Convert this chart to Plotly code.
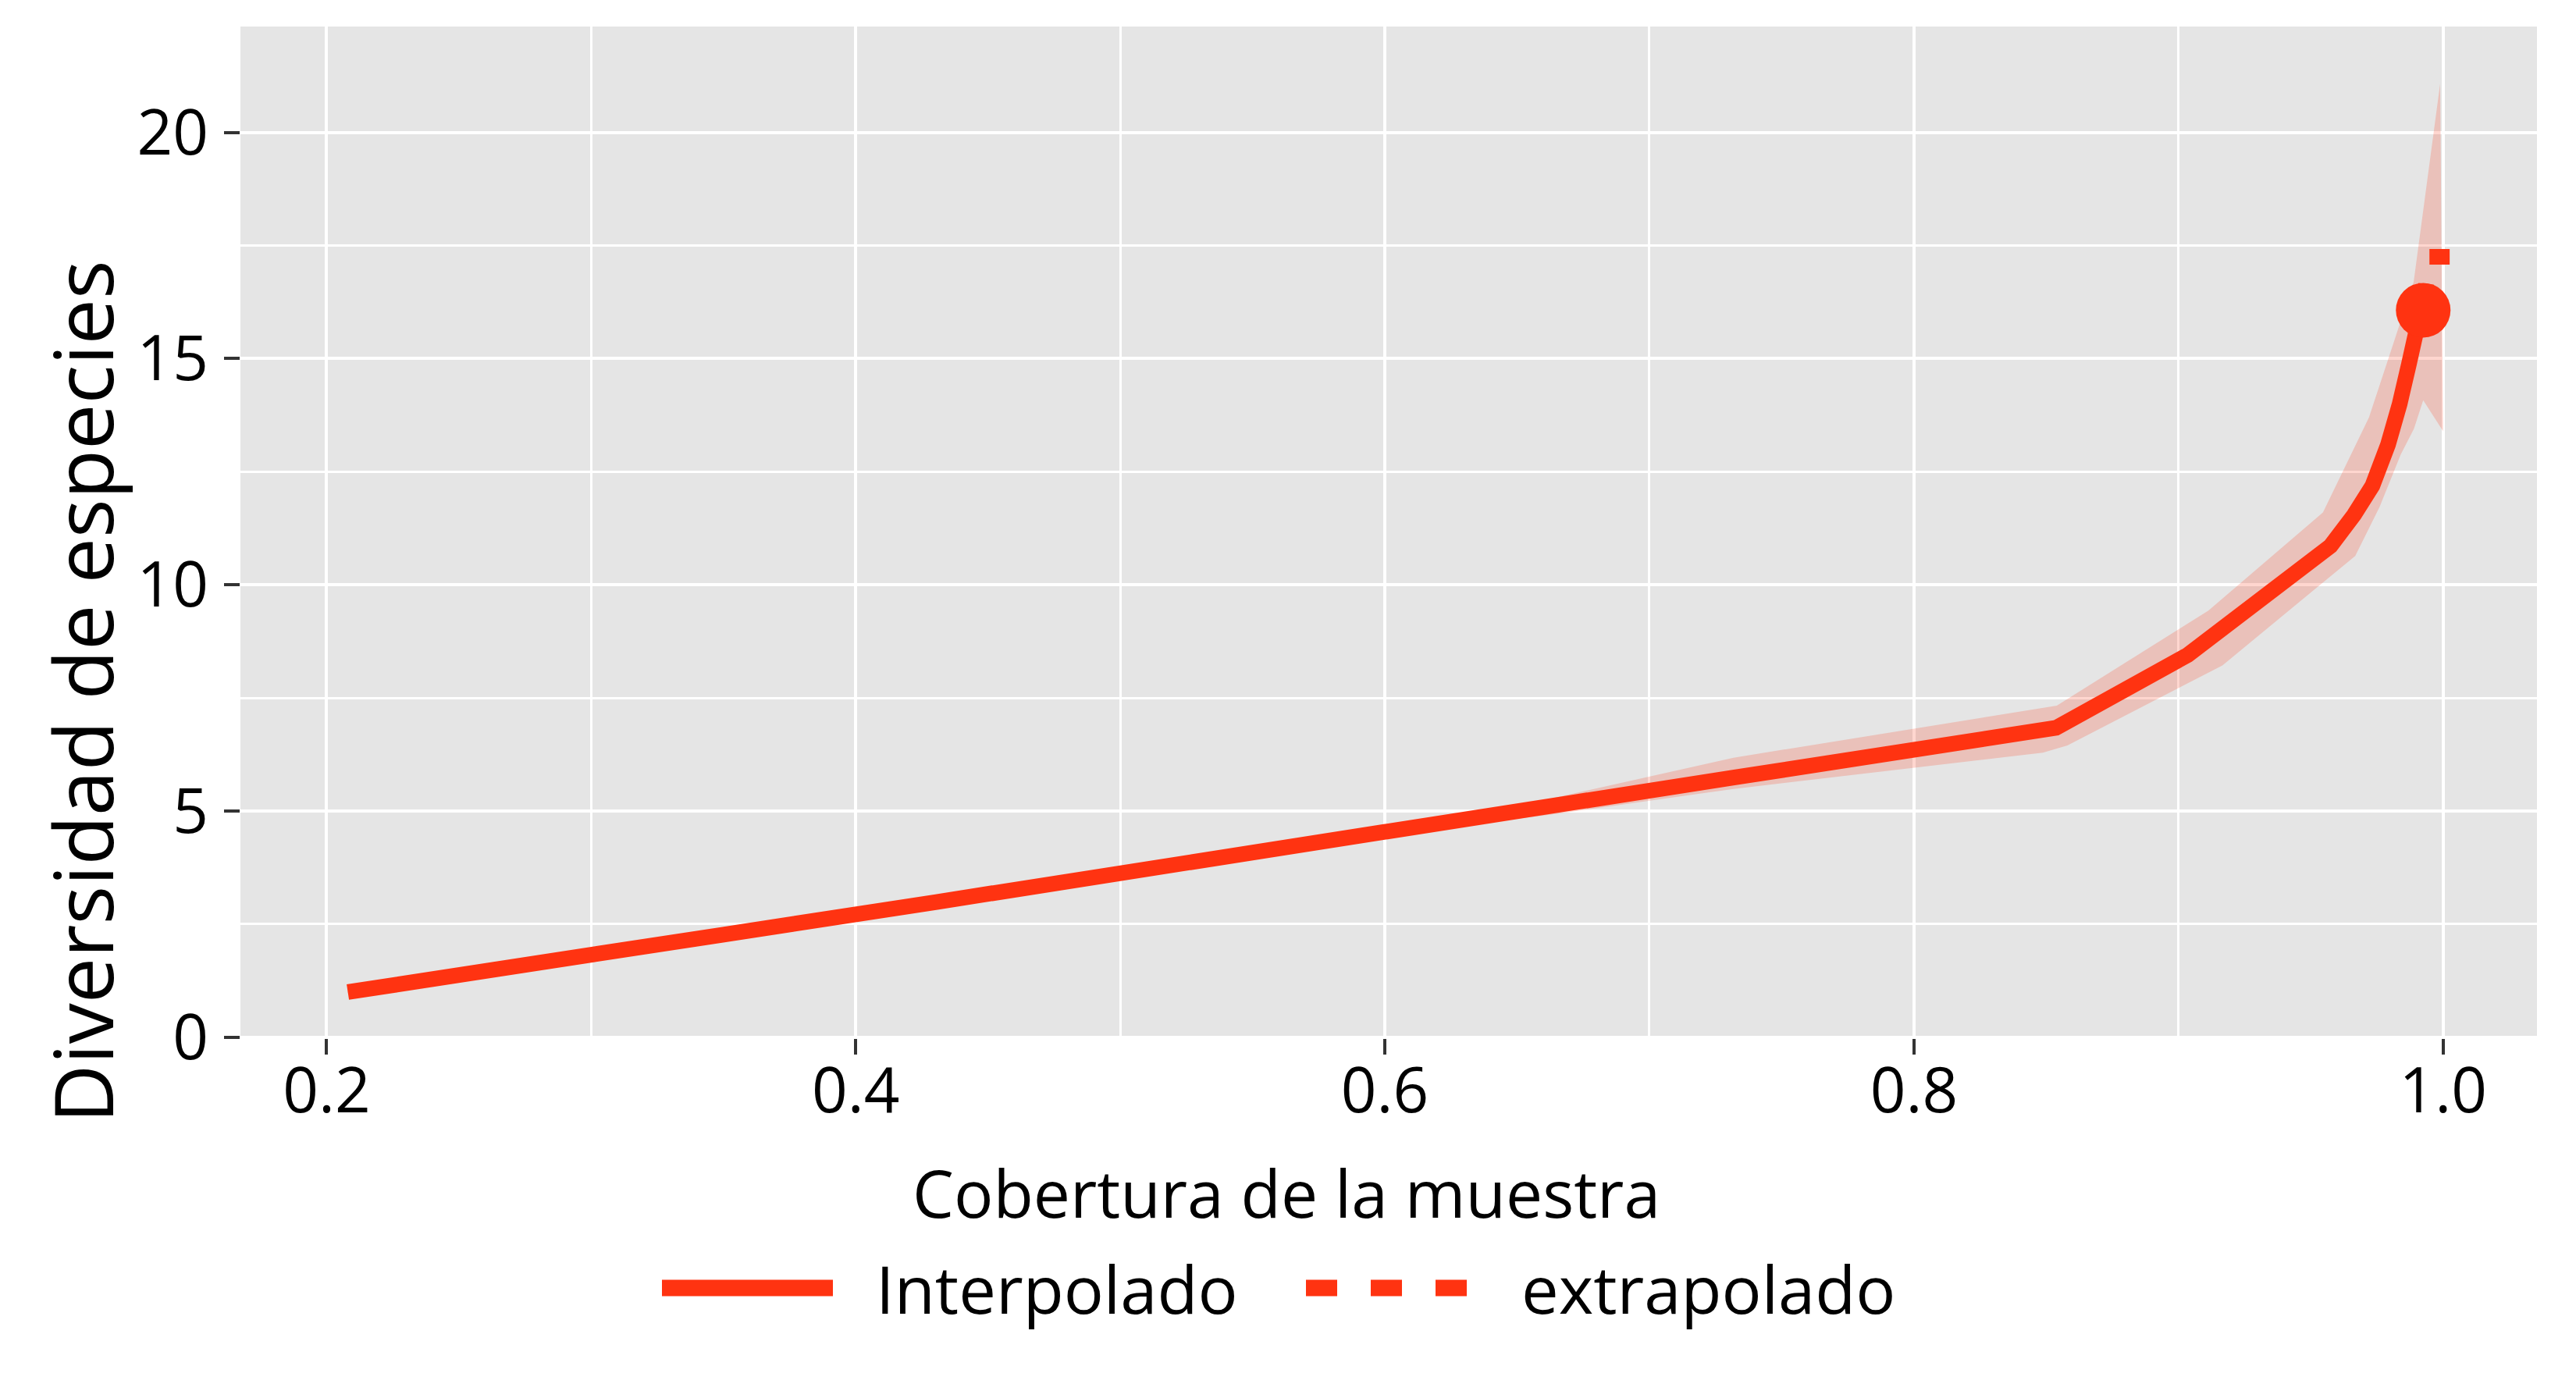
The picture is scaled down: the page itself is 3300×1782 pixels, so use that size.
import plotly.graph_objs as go

# interpolated curve (sample coverage vs species diversity)
cov_interp = [0.208, 0.350, 0.4305, 0.600, 0.7318, 0.8537, 0.9035, 0.9575, 0.9664, 0.9733, 0.9792, 0.9836, 0.9871, 0.9900, 0.9925]
div_interp = [1.00, 2.27, 2.99, 4.54, 5.74, 6.84, 8.45, 10.86, 11.55, 12.19, 13.10, 14.00, 14.88, 15.64, 16.07]

# extrapolated part
cov_extrap = [0.9925, 0.9948, 1.0025]
div_extrap = [16.07, 17.25, 17.25]

# observed sample
cov_obs = [0.9925]
div_obs = [16.07]

# confidence band
band_x_upper = [0.208, 0.600, 0.660, 0.7318, 0.8540, 0.9113, 0.9546, 0.9720, 0.9889, 0.9989]
band_upper = [1.02, 4.60, 5.24, 6.18, 7.33, 9.43, 11.60, 13.70, 16.70, 21.07]
band_x_lower = [0.208, 0.600, 0.660, 0.7318, 0.8487, 0.8580, 0.9166, 0.9668, 0.9760, 0.9840, 0.9890, 0.9925, 1.0]
band_lower = [0.98, 4.48, 4.90, 5.49, 6.29, 6.45, 8.22, 10.64, 11.72, 12.88, 13.45, 14.08, 13.40]

x_ticks = [0.2, 0.4, 0.6, 0.8, 1.0]
x_labels = ['0.2', '0.4', '0.6', '0.8', '1.0']
x_minor = [0.3, 0.5, 0.7, 0.9]
y_ticks = [0, 5, 10, 15, 20]
y_labels = ['0', '5', '10', '15', '20']
y_minor = [2.5, 7.5, 12.5, 17.5]

red = '#FF3311'
band_col = 'rgba(255,51,17,0.2)'
font = 'Open Sans'

fig = go.Figure()

fig.add_trace(go.Scatter(
    x=band_x_upper + band_x_lower[::-1],
    y=band_upper + band_lower[::-1],
    fill='toself', fillcolor=band_col, mode='none', hoverinfo='skip'))

fig.add_trace(go.Scatter(x=cov_interp, y=div_interp, mode='lines',
                         line=dict(color=red, width=20, simplify=False), name='Interpolado'))
fig.add_trace(go.Scatter(x=cov_extrap, y=div_extrap, mode='lines',
                         line=dict(color=red, width=20, dash='34px,35px', simplify=False), name='extrapolado'))
fig.add_trace(go.Scatter(x=cov_obs, y=div_obs, mode='markers',
                         marker=dict(color=red, size=70, line=dict(width=0))))

# plot area in pixels
L, R, T, B = 308, 3250, 34, 1330

def px(x):
    return (x - L) / (R - L)

def py(y):
    return (B - y) / (B - T)

# legend drawn below the axis title
leg_y = 1650
fig.add_shape(type='line', xref='paper', yref='paper', x0=px(848), x1=px(1067), y0=py(leg_y), y1=py(leg_y),
              line=dict(color=red, width=21))
fig.add_shape(type='line', xref='paper', yref='paper', x0=px(1673), x1=px(1880), y0=py(leg_y), y1=py(leg_y),
              line=dict(color=red, width=21, dash='40px,43px'))

annots = [
    dict(text='Cobertura de la muestra', x=px(1648), y=py(1528), xanchor='center', yanchor='middle',
         font=dict(size=84)),
    dict(text='Diversidad de especies', x=px(104), y=py(886), xanchor='center', yanchor='middle',
         textangle=-90, font=dict(size=104)),
    dict(text='Interpolado', x=px(1120), y=py(leg_y), xanchor='left', yanchor='middle', font=dict(size=85)),
    dict(text='extrapolado', x=px(1947), y=py(leg_y), xanchor='left', yanchor='middle', font=dict(size=85)),
]
for a in annots:
    a.update(xref='paper', yref='paper', showarrow=False)
    a['font'].update(family=font, color='black')

fig.update_layout(
    width=3300, height=1782,
    margin=dict(l=L, r=3300 - R, t=T, b=1782 - B),
    plot_bgcolor='#E5E5E5', paper_bgcolor='white',
    showlegend=False,
    font=dict(family=font, color='black'),
    annotations=annots,
)

fig.update_xaxes(range=[0.1674, 1.0355], tickvals=x_ticks, ticktext=x_labels,
                 ticks='outside', ticklen=20, tickwidth=4, tickcolor='#333333', ticklabelstandoff=-22,
                 tickfont=dict(size=80, color='black', family=font),
                 showgrid=True, gridcolor='white', gridwidth=4, zeroline=False, showline=False,
                 minor=dict(tickvals=x_minor, showgrid=True, gridcolor='white', gridwidth=3, ticks=''))
fig.update_yaxes(range=[-0.02, 22.34], tickvals=y_ticks, ticktext=y_labels,
                 ticks='outside', ticklen=20, tickwidth=4, tickcolor='#333333', ticklabelstandoff=4,
                 tickfont=dict(size=80, color='black', family=font),
                 showgrid=True, gridcolor='white', gridwidth=4, zeroline=False, showline=False,
                 minor=dict(tickvals=y_minor, showgrid=True, gridcolor='white', gridwidth=3, ticks=''))

fig.write_html('out.html', config={'displayModeBar': False},
               post_script="document.body.style.margin='0';")
